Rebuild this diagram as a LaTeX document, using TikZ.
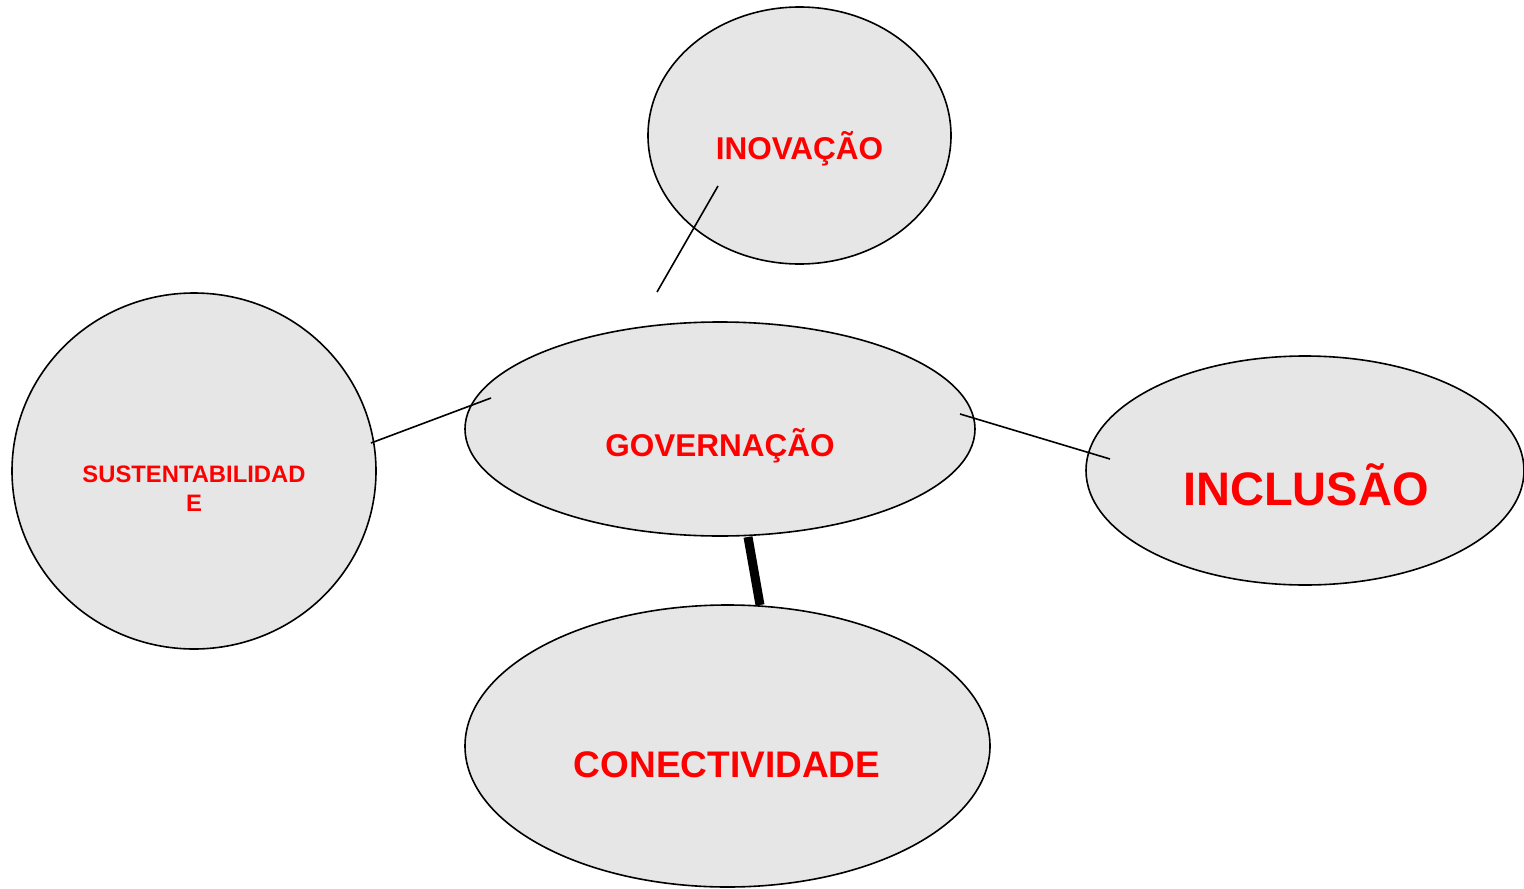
\documentclass[tikz,border=0pt]{standalone}
\usepackage{fontspec}
\setmainfont{Liberation Sans}
\usetikzlibrary{shapes.geometric}
\definecolor{bubblefill}{HTML}{E6E6E6}
\definecolor{labelred}{HTML}{FF0000}
\tikzset{
  bubble/.style={ellipse, draw=black, fill=bubblefill, line width=1.6pt, inner sep=0pt, text=labelred, font=\bfseries, align=center},
  link/.style={draw=black, line width=1.6pt},
  thicklink/.style={draw=black, line width=9pt}
}
\begin{document}
\begin{tikzpicture}[x=1pt,y=-1pt]
\useasboundingbox (0,0) rectangle (1524,889);
\fill[white] (0,0) rectangle (1524,889);
% ellipses
\node[bubble, minimum width=303pt, minimum height=257pt] (inov) at (799.5,135.5) {};
\node[bubble, minimum width=364pt, minimum height=356pt] (sust) at (194,471) {};
\node[bubble, minimum width=438pt, minimum height=229pt] (incl) at (1305,470.5) {};
\node[bubble, minimum width=525pt, minimum height=282pt] (conec) at (727.5,746) {};
\node[bubble, minimum width=510pt, minimum height=214pt] (gov) at (720,429) {};
% labels
\node[text=labelred, font=\fontsize{31.5}{36}\selectfont\bfseries] (inovt) at (799.5,149) {INOVAÇÃO};
\node[text=labelred, font=\fontsize{31.5}{36}\selectfont\bfseries] (govt) at (720,446) {GOVERNAÇÃO};
\node[text=labelred, font=\fontsize{47}{52}\selectfont\bfseries] (inclt) at (1306,485) {INCLUSÃO};
\node[text=labelred, font=\fontsize{37}{42}\selectfont\bfseries] (conect) at (727,765) {CONECTIVIDADE};
\node[text=labelred, font=\fontsize{23.8}{29}\selectfont\bfseries, align=center] (sustt) at (194,489) {SUSTENTABILIDAD\\E};
% connectors
\coordinate (c1a) at (718,186);
\coordinate (c1b) at (657,292);
\coordinate (c2a) at (371,443);
\coordinate (c2b) at (491,398);
\coordinate (c3a) at (960,414);
\coordinate (c3b) at (1110,459);
\coordinate (c4a) at (748,537);
\coordinate (c4b) at (760,605);
\draw[link] (c1a) -- (c1b);
\draw[link] (c2a) -- (c2b);
\draw[link] (c3a) -- (c3b);
\draw[thicklink] (c4a) -- (c4b);
\end{tikzpicture}
\end{document}
